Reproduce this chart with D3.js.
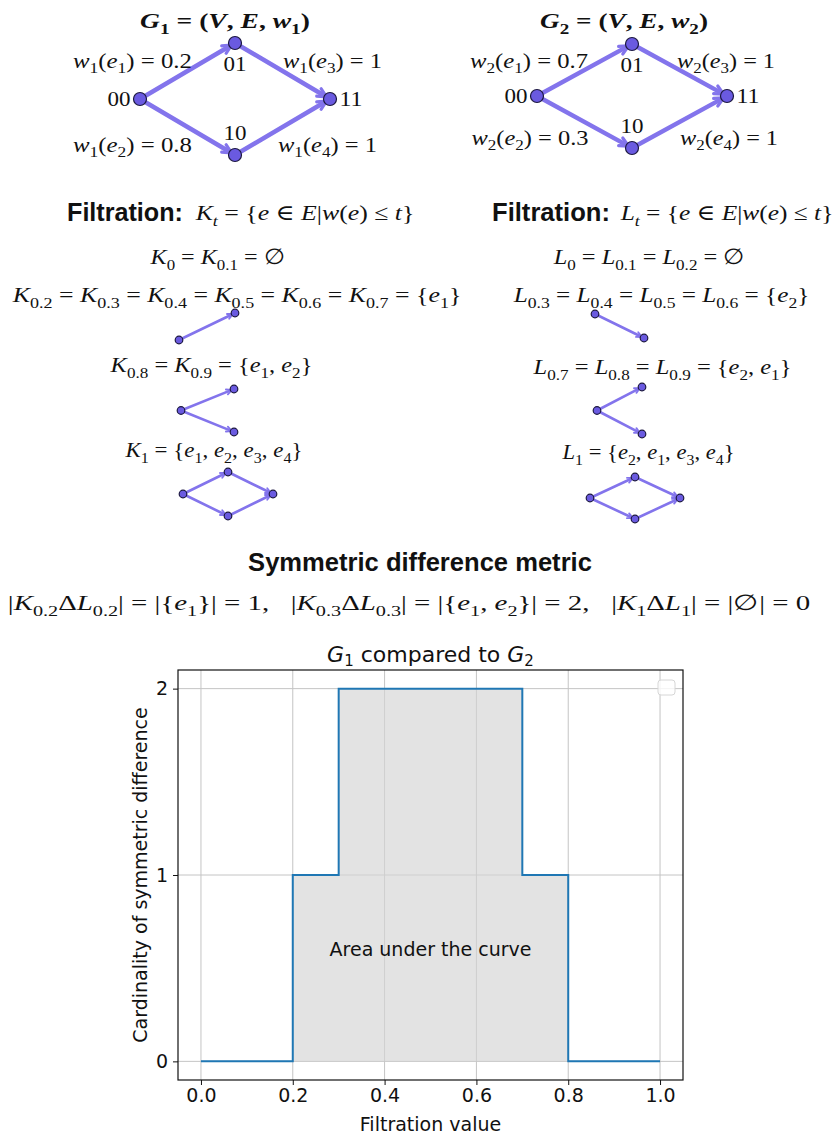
<!DOCTYPE html>
<html>
<head>
<meta charset="utf-8">
<script src="https://cdn.jsdelivr.net/npm/d3@7"></script>
<style>
  html, body { margin: 0; padding: 0; background: #ffffff; }
  svg { display: block; }
  text { white-space: pre; }
</style>
</head>
<body>
<svg id="fig" width="836" height="1136"></svg>
<script>
// ---------- data ----------
const edgeNames = ["e1", "e2", "e3", "e4"];
const edgeEnds = [["00", "01"], ["00", "10"], ["01", "11"], ["10", "11"]];
const weightsG1 = [0.2, 0.8, 1, 1];
const weightsG2 = [0.7, 0.3, 1, 1];

// filtration snapshots (edges present)
const kSnapshots = [["e1"], ["e1", "e2"], ["e1", "e2", "e3", "e4"]];
const lSnapshots = [["e2"], ["e2", "e1"], ["e1", "e2", "e3", "e4"]];

// symmetric difference curve
const filtrationValues = [0, 0.1, 0.2, 0.3, 0.4, 0.5, 0.6, 0.7, 0.8, 0.9, 1.0];
const symDiff = [0, 0, 1, 2, 2, 2, 2, 1, 0, 0, 0];
const xTicks = [0, 0.2, 0.4, 0.6, 0.8, 1.0];
const xTickLabels = ["0.0", "0.2", "0.4", "0.6", "0.8", "1.0"];
const yTicks = [0, 1, 2];
const yTickLabels = ["0", "1", "2"];

// abstract node layout of the diamond graph
const layout = { "00": [0, 0], "01": [1, 1], "10": [1, -1], "11": [2, 0] };

// ---------- styles ----------
const EDGE = "#8374ec";
const NODE = "#6a5ae0";
const NODE_STROKE = "#1c1840";
const SERIF = "'Liberation Serif', 'DejaVu Serif', serif";
const SANS = "'Liberation Sans', Arial, sans-serif";
const MPL = "'DejaVu Sans', sans-serif";

const svg = d3.select("#fig");
svg.append("rect").attr("width", 836).attr("height", 1136).attr("fill", "#fff");

// ---------- math-like text ----------
function texTokens(src) {
  const out = [];
  let i = 0;
  while (i < src.length) {
    const c = src[i];
    if (c === "_") {
      let s;
      if (src[i + 1] === "[") { const j = src.indexOf("]", i); s = src.slice(i + 2, j); i = j + 1; }
      else { s = src[i + 1]; i += 2; }
      for (const ch of s) out.push({ ch, sub: true });
    } else { out.push({ ch: c, sub: false }); i++; }
  }
  return out;
}

function buildTex(parent, src, size, opts) {
  const t = parent.append("text")
    .attr("text-anchor", "middle")
    .attr("font-family", opts.family || SERIF)
    .attr("font-weight", opts.bold ? "bold" : "normal")
    .attr("fill", "#111");
  const toks = texTokens(src);
  const runs = [];
  for (const tk of toks) {
    const it = opts.plain ? false : /[A-Za-z]/.test(tk.ch);
    const last = runs[runs.length - 1];
    if (last && last.sub === tk.sub && last.it === it) last.text += tk.ch;
    else runs.push({ text: tk.ch, sub: tk.sub, it });
  }
  let shift = 0;
  for (const r of runs) {
    const sp = t.append("tspan").text(r.text)
      .attr("font-size", r.sub ? size * 0.7 : size)
      .attr("font-style", r.it ? "italic" : "normal");
    const target = r.sub ? size * 0.27 : 0;
    if (target !== shift) sp.attr("dy", target - shift);
    shift = target;
  }
  return t;
}

// text centred at (cx, cy): with opts.size the glyphs are stretched
// horizontally to the width, otherwise the font size is fitted to it
function tex(parent, src, cx, cy, width, opts = {}) {
  if (opts.size) {
    const t = buildTex(parent, src, opts.size, opts);
    const w0 = t.node().getBBox().width;
    t.attr("transform", `translate(${cx},${cy + 0.32 * opts.size}) scale(${width / w0},1)`);
    return t;
  }
  const probe = 20;
  const p = buildTex(parent, src, probe, opts);
  const w0 = p.node().getBBox().width;
  p.remove();
  const size = probe * width / w0;
  const t = buildTex(parent, src, size, opts);
  t.attr("x", cx).attr("y", cy + 0.32 * size);
  return t;
}

// ---------- graph drawing ----------
function drawGraph(parent, edges, place, r, lw, head) {
  const g = parent.append("g");
  const xs = d3.scaleLinear().domain([0, 1]).range([place.x0, place.x0 + place.dx]);
  const ys = d3.scaleLinear().domain([0, 1]).range([place.y0, place.y0 - place.dy]);
  const pos = id => [xs(layout[id][0]), ys(layout[id][1])];
  const used = new Set();
  edges.forEach(e => {
    const [a, b] = edgeEnds[edgeNames.indexOf(e)];
    used.add(a); used.add(b);
    const [x1, y1] = pos(a), [x2, y2] = pos(b);
    const ang = Math.atan2(y2 - y1, x2 - x1);
    const tx = x2 - Math.cos(ang) * r * 0.6, ty = y2 - Math.sin(ang) * r * 0.6;
    g.append("line").attr("x1", x1).attr("y1", y1).attr("x2", tx).attr("y2", ty)
      .attr("stroke", EDGE).attr("stroke-width", lw).attr("stroke-linecap", "round");
    const a1 = ang + Math.PI - 0.45, a2 = ang + Math.PI + 0.45;
    g.append("path")
      .attr("d", `M${tx + Math.cos(a1) * head},${ty + Math.sin(a1) * head}L${tx},${ty}L${tx + Math.cos(a2) * head},${ty + Math.sin(a2) * head}`)
      .attr("fill", "none").attr("stroke", EDGE).attr("stroke-width", lw * 0.7)
      .attr("stroke-linecap", "round").attr("stroke-linejoin", "round");
  });
  Object.keys(layout).filter(id => used.has(id)).forEach(id => {
    const [x, y] = pos(id);
    g.append("circle").attr("cx", x).attr("cy", y).attr("r", r)
      .attr("fill", NODE).attr("stroke", NODE_STROKE).attr("stroke-width", 1.2);
  });
  return pos;
}

function nodeLabels(parent, pos) {
  const lab = (id, dx, dy) => {
    const [x, y] = pos(id);
    tex(parent, id, x + dx, y + dy, 23, { size: 20, plain: true });
  };
  lab("00", -21, 1);
  lab("11", 21, 1);
  lab("01", 0, 22);
  lab("10", 0, -21);
}

// ---------- top: the two weighted graphs ----------
const graphsLayer = svg.append("g");
tex(graphsLayer, "G_1 = (V, E, w_1)", 225, 21, 170, { bold: true, size: 22 });
tex(graphsLayer, "G_2 = (V, E, w_2)", 624, 21, 168, { bold: true, size: 22 });

const posG1 = drawGraph(graphsLayer, edgeNames, { x0: 140, dx: 95, y0: 99, dy: 56 }, 6.5, 4.5, 10);
nodeLabels(graphsLayer, posG1);
const posG2 = drawGraph(graphsLayer, edgeNames, { x0: 537, dx: 95, y0: 96, dy: 52 }, 6.5, 4.5, 10);
nodeLabels(graphsLayer, posG2);

const wLabel = (k, i, w) => `w_${k}(e_${i}) = ${w}`;
const WL = { size: 21 };
tex(graphsLayer, wLabel(1, 1, weightsG1[0]), 132.5, 61, 119, WL);
tex(graphsLayer, wLabel(1, 2, weightsG1[1]), 132.5, 145, 119, WL);
tex(graphsLayer, wLabel(1, 3, weightsG1[2]), 332.5, 61, 99, WL);
tex(graphsLayer, wLabel(1, 4, weightsG1[3]), 327.5, 145, 99, WL);
tex(graphsLayer, wLabel(2, 1, weightsG2[0]), 529, 61, 118, WL);
tex(graphsLayer, wLabel(2, 2, weightsG2[1]), 530, 138, 117, WL);
tex(graphsLayer, wLabel(2, 3, weightsG2[2]), 726, 61, 98, WL);
tex(graphsLayer, wLabel(2, 4, weightsG2[3]), 729, 138, 98, WL);

// ---------- filtrations ----------
const filtLayer = svg.append("g");
const FL = { size: 22 };
tex(filtLayer, "Filtration:", 125, 213, 116, { bold: true, plain: true, family: SANS });
tex(filtLayer, "K_t = {e ∈ E|w(e) ≤ t}", 305, 213, 220, FL);
tex(filtLayer, "Filtration:", 551, 213, 118, { bold: true, plain: true, family: SANS });
tex(filtLayer, "L_t = {e ∈ E|w(e) ≤ t}", 727, 213, 214, FL);

tex(filtLayer, "K_0 = K_[0.1] = ∅", 217.5, 257, 135, FL);
tex(filtLayer, "K_[0.2] = K_[0.3] = K_[0.4] = K_[0.5] = K_[0.6] = K_[0.7] = {e_1}", 237, 295, 450, FL);
tex(filtLayer, "K_[0.8] = K_[0.9] = {e_1, e_2}", 211.5, 365, 203, FL);
tex(filtLayer, "K_1 = {e_1, e_2, e_3, e_4}", 214, 450, 178, FL);

tex(filtLayer, "L_0 = L_[0.1] = L_[0.2] = ∅", 649, 257, 192, FL);
tex(filtLayer, "L_[0.3] = L_[0.4] = L_[0.5] = L_[0.6] = {e_2}", 661.5, 295, 297, FL);
tex(filtLayer, "L_[0.7] = L_[0.8] = L_[0.9] = {e_2, e_1}", 662.5, 367, 259, FL);
tex(filtLayer, "L_1 = {e_2, e_1, e_3, e_4}", 648.5, 452, 173, FL);

drawGraph(filtLayer, kSnapshots[0], { x0: 179, dx: 56, y0: 340, dy: 27 }, 3.8, 2.6, 6);
drawGraph(filtLayer, kSnapshots[1], { x0: 181, dx: 53, y0: 410.5, dy: 21.5 }, 3.8, 2.6, 6);
drawGraph(filtLayer, kSnapshots[2], { x0: 183, dx: 45, y0: 494, dy: 22 }, 3.8, 2.6, 6);
drawGraph(filtLayer, lSnapshots[0], { x0: 595, dx: 49, y0: 314, dy: 24 }, 3.8, 2.6, 6);
drawGraph(filtLayer, lSnapshots[1], { x0: 597, dx: 45, y0: 410.5, dy: 23.5 }, 3.8, 2.6, 6);
drawGraph(filtLayer, lSnapshots[2], { x0: 590, dx: 45, y0: 498, dy: 21 }, 3.8, 2.6, 6);

// ---------- symmetric difference ----------
tex(filtLayer, "Symmetric difference metric", 420, 563, 344, { bold: true, plain: true, family: SANS });
tex(filtLayer, "|K_[0.2]ΔL_[0.2]| = |{e_1}| = 1,   |K_[0.3]ΔL_[0.3]| = |{e_1, e_2}| = 2,   |K_1ΔL_1| = |∅| = 0", 409, 603, 802, { size: 22 });

// ---------- step plot ----------
const plot = svg.append("g");
const x = d3.scaleLinear().domain([-0.05, 1.05]).range([178, 683]);
const y = d3.scaleLinear().domain([-0.1, 2.1]).range([1080, 670]);
const pts = filtrationValues.map((t, i) => ({ t, v: symDiff[i] }));

// grid
plot.append("g").selectAll("line").data(xTicks).join("line")
  .attr("x1", d => x(d)).attr("x2", d => x(d)).attr("y1", y.range()[1]).attr("y2", y.range()[0])
  .attr("stroke", "#c4c4c4").attr("stroke-width", 1);
plot.append("g").selectAll("line").data(yTicks).join("line")
  .attr("y1", d => y(d)).attr("y2", d => y(d)).attr("x1", x.range()[0]).attr("x2", x.range()[1])
  .attr("stroke", "#c4c4c4").attr("stroke-width", 1);

// area under the step curve
plot.append("path").datum(pts)
  .attr("d", d3.area().curve(d3.curveStepAfter).x(d => x(d.t)).y0(y(0)).y1(d => y(d.v)))
  .attr("fill", "#d4d4d4").attr("fill-opacity", 0.65);
plot.append("path").datum(pts)
  .attr("d", d3.line().curve(d3.curveStepAfter).x(d => x(d.t)).y(d => y(d.v)))
  .attr("fill", "none").attr("stroke", "#1f77b4").attr("stroke-width", 2);

plot.append("text").attr("x", x(0.5)).attr("y", 956).attr("text-anchor", "middle")
  .attr("font-family", MPL).attr("font-size", 19).attr("fill", "#111").text("Area under the curve");

// empty legend frame
plot.append("rect").attr("x", 658).attr("y", 680).attr("width", 17).attr("height", 15).attr("rx", 3)
  .attr("fill", "#fff").attr("fill-opacity", 0.8).attr("stroke", "#d6d6d6").attr("stroke-width", 1);

// axes
const xAxis = plot.append("g").attr("transform", `translate(0,${y.range()[0]})`)
  .call(d3.axisBottom(x).tickValues(xTicks).tickFormat((d, i) => xTickLabels[i]).tickSize(5).tickPadding(4));
const yAxis = plot.append("g").attr("transform", `translate(${x.range()[0]},0)`)
  .call(d3.axisLeft(y).tickValues(yTicks).tickFormat((d, i) => yTickLabels[i]).tickSize(5).tickPadding(5));
[xAxis, yAxis].forEach(a => {
  a.select(".domain").remove();
  a.selectAll(".tick line").attr("stroke", "#111").attr("stroke-width", 1);
  a.selectAll(".tick text").attr("font-family", MPL).attr("font-size", 19).attr("fill", "#111");
});
plot.append("rect").attr("x", x.range()[0]).attr("y", y.range()[1])
  .attr("width", x.range()[1] - x.range()[0]).attr("height", y.range()[0] - y.range()[1])
  .attr("fill", "none").attr("stroke", "#111").attr("stroke-width", 1.2);

plot.append("text").attr("x", (x.range()[0] + x.range()[1]) / 2).attr("y", 1131).attr("text-anchor", "middle")
  .attr("font-family", MPL).attr("font-size", 19).attr("fill", "#111").text("Filtration value");
plot.append("text").attr("transform", `translate(147,${(y.range()[0] + y.range()[1]) / 2}) rotate(-90)`)
  .attr("text-anchor", "middle").attr("font-family", MPL).attr("font-size", 19).attr("fill", "#111")
  .text("Cardinality of symmetric difference");

// title with italic G and subscripts
const title = plot.append("text").attr("x", (x.range()[0] + x.range()[1]) / 2).attr("y", 662)
  .attr("text-anchor", "middle").attr("font-family", MPL).attr("font-size", 22).attr("fill", "#111");
title.append("tspan").attr("font-style", "italic").text("G");
title.append("tspan").attr("font-size", 15).attr("dy", 4).text("1");
title.append("tspan").attr("dy", -4).text(" compared to ");
title.append("tspan").attr("font-style", "italic").text("G");
title.append("tspan").attr("font-size", 15).attr("dy", 4).text("2");
</script>
</body>
</html>
